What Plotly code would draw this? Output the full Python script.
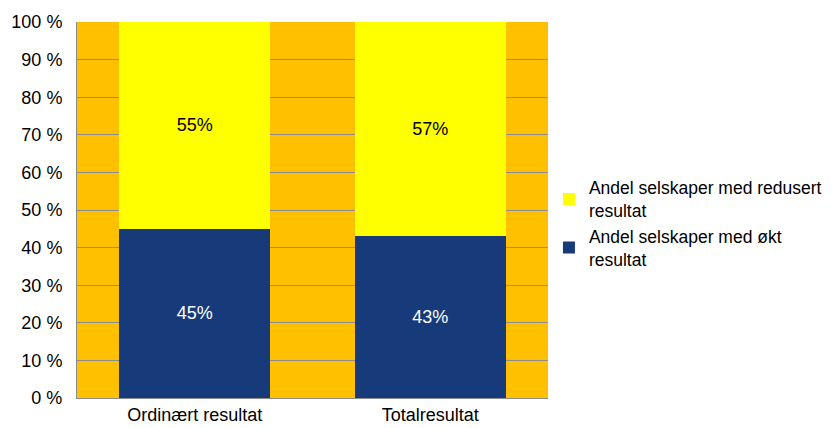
import plotly.graph_objects as go

categories = ["Ordinært resultat", "Totalresultat"]
okt = [45, 43]
redusert = [55, 57]
series_names = ["Andel selskaper med økt<br>resultat", "Andel selskaper med redusert<br>resultat"]
tick_vals = list(range(0, 101, 10))
tick_text = [f"{v} %" for v in tick_vals]

family = "Liberation Sans, Arial, sans-serif"
fs = 18

fig = go.Figure()
fig.add_bar(
    x=categories, y=okt, name=series_names[0], legendgroup="okt",
    marker=dict(color="#173B7A", line=dict(width=0)),
    text=[f"{v}%" for v in okt], textposition="inside", insidetextanchor="middle",
    textfont=dict(color="#FFFFFF", size=fs, family=family),
)
fig.add_bar(
    x=categories, y=redusert, name=series_names[1], legendgroup="red",
    marker=dict(color="#FFFF00", line=dict(width=0)),
    text=[f"{v}%" for v in redusert], textposition="inside", insidetextanchor="middle",
    textfont=dict(color="#000000", size=fs, family=family),
)

fig.update_layout(
    barmode="stack",
    bargap=0.36,
    width=835, height=428,
    margin=dict(l=77, r=287, t=22, b=30, autoexpand=False),
    paper_bgcolor="#FFFFFF",
    plot_bgcolor="#FFC000",
    font=dict(family=family, size=fs, color="#000000"),
    showlegend=True,
    legend=dict(
        traceorder="reversed",
        x=1.002, xanchor="left", y=0.465, yanchor="middle",
        font=dict(size=17.5, family=family),
        itemwidth=30, tracegroupgap=6,
        bgcolor="rgba(0,0,0,0)",
    ),
    uniformtext=dict(mode=False),
)
fig.update_yaxes(
    range=[0, 100], tickvals=tick_vals, ticktext=tick_text,
    showgrid=True, gridcolor="#8C8C8C", gridwidth=1,
    showline=True, linecolor="#8C8C8C", linewidth=1,
    ticks="", zeroline=False, ticklabelstandoff=10,
    tickfont=dict(size=fs),
)
fig.update_xaxes(
    showline=True, linecolor="#8C8C8C", linewidth=1,
    ticks="", tickfont=dict(size=fs),
)

fig.write_html("out.html")
